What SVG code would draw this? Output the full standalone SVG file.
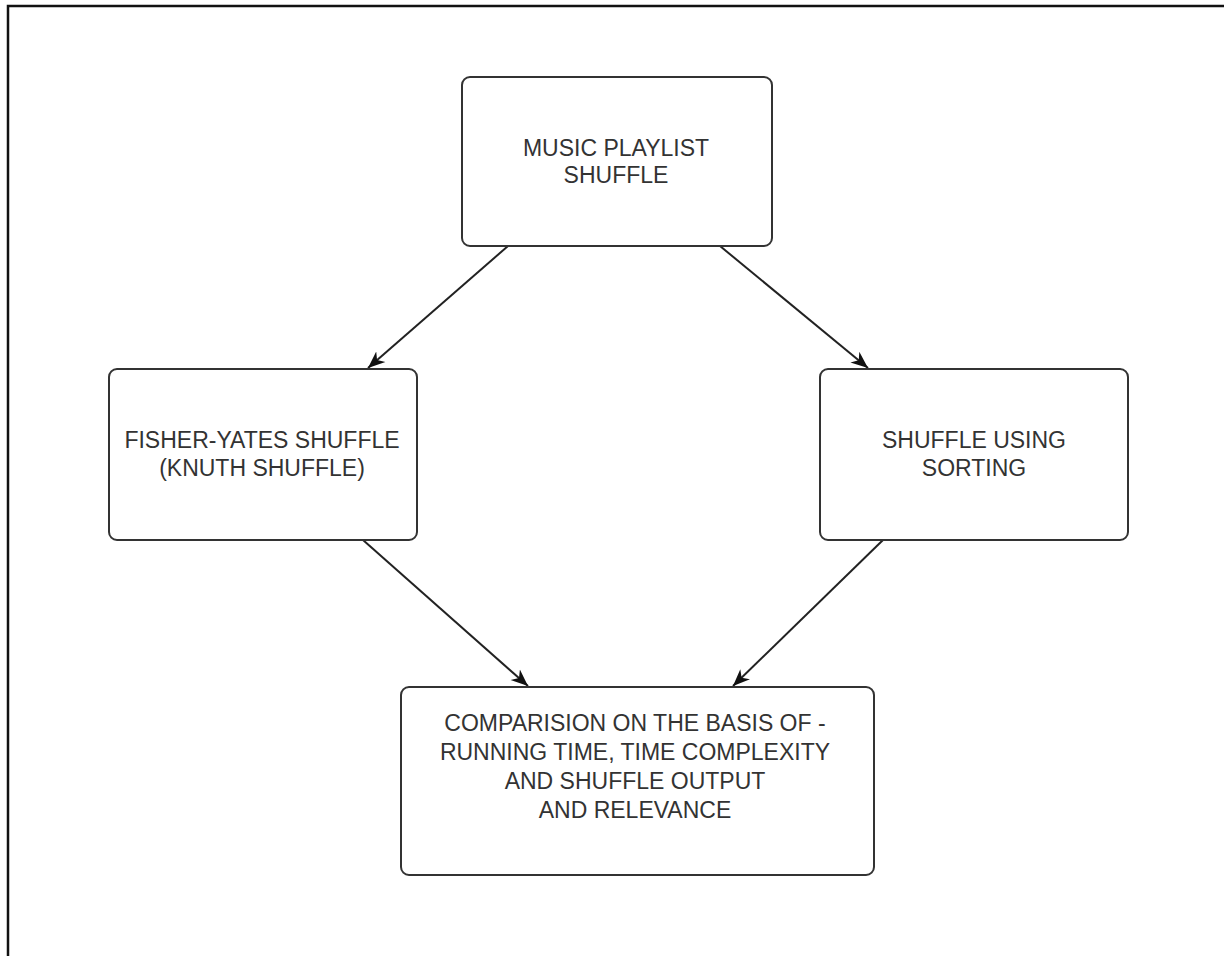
<svg xmlns="http://www.w3.org/2000/svg" width="1224" height="956" viewBox="0 0 1224 956">
<defs>
<style>
.box{fill:#fff;stroke:#333;stroke-width:2}
.lbl{font-family:"Liberation Sans",Arial,sans-serif;font-size:23px;fill:#333;text-anchor:middle}
.edge{fill:none;stroke:#222;stroke-width:2}
</style>
<marker id="arr" markerUnits="userSpaceOnUse" markerWidth="18" markerHeight="16" viewBox="0 0 18 16" refX="17" refY="8" orient="auto">
<path d="M0,1 L17,8 L0,15 L5,8 z" fill="#111"/>
</marker>
</defs>
<rect width="1224" height="956" fill="#fff"/>
<path d="M8,956 V6 H1224" fill="none" stroke="#111" stroke-width="2.5"/>
<g id="connectors">
<line class="edge" x1="508" y1="246" x2="368" y2="368" marker-end="url(#arr)"/>
<line class="edge" x1="720" y1="246" x2="868" y2="368" marker-end="url(#arr)"/>
<line class="edge" x1="363" y1="540" x2="528" y2="686" marker-end="url(#arr)"/>
<line class="edge" x1="883" y1="540" x2="733" y2="686" marker-end="url(#arr)"/>
</g>
<g id="node-music">
<rect class="box" x="462" y="77" width="310" height="169" rx="8"/>
<text class="lbl" x="616" y="156">MUSIC PLAYLIST</text>
<text class="lbl" x="616" y="183">SHUFFLE</text>
</g>
<g id="node-fisher">
<rect class="box" x="109" y="369" width="308" height="171" rx="8"/>
<text class="lbl" x="262" y="448">FISHER-YATES SHUFFLE</text>
<text class="lbl" x="262" y="476">(KNUTH SHUFFLE)</text>
</g>
<g id="node-sorting">
<rect class="box" x="820" y="369" width="308" height="171" rx="8"/>
<text class="lbl" x="974" y="448">SHUFFLE USING</text>
<text class="lbl" x="974" y="476">SORTING</text>
</g>
<g id="node-compare">
<rect class="box" x="401" y="687" width="473" height="188" rx="8"/>
<text class="lbl" x="635" y="731">COMPARISION ON THE BASIS OF -</text>
<text class="lbl" x="635" y="760">RUNNING TIME, TIME COMPLEXITY</text>
<text class="lbl" x="635" y="789">AND SHUFFLE OUTPUT</text>
<text class="lbl" x="635" y="818">AND RELEVANCE</text>
</g>
</svg>
